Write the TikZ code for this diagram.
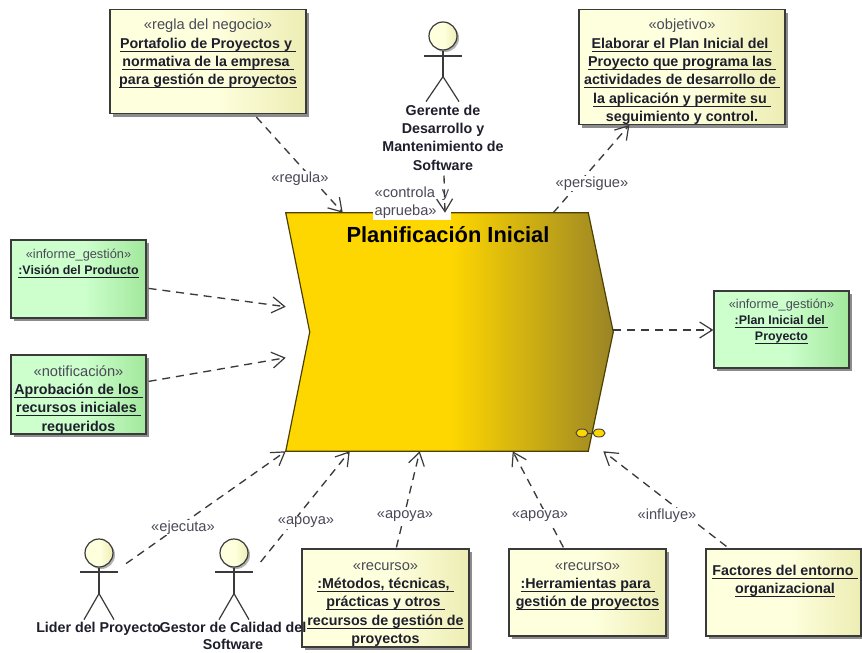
\documentclass[tikz,border=0pt]{standalone}
\usepackage{fontspec}
\setmainfont{Liberation Sans}
\usetikzlibrary{arrows.meta,shadows,shapes.geometric}
\definecolor{inkA}{HTML}{1E1E2C}
\definecolor{inkB}{HTML}{4A4A58}
\definecolor{edgeC}{HTML}{3A3A3A}
\definecolor{yA}{HTML}{FEFFDD}
\definecolor{yB}{HTML}{EDEDB4}
\definecolor{gA}{HTML}{CCFFCC}
\definecolor{gB}{HTML}{A2E89C}
\definecolor{mA}{HTML}{FFD700}
\definecolor{mB}{HTML}{9A8426}
\pgfdeclarehorizontalshading{yshade}{100bp}{color(0bp)=(yA); color(25bp)=(yA); color(52bp)=(yA); color(75bp)=(yB); color(100bp)=(yB)}
\pgfdeclarehorizontalshading{gshade}{100bp}{color(0bp)=(gA); color(25bp)=(gA); color(52bp)=(gA); color(75bp)=(gB); color(100bp)=(gB)}
\pgfdeclarehorizontalshading{mshade}{100bp}{color(0bp)=(mA); color(25bp)=(mA); color(50bp)=(mA); color(75bp)=(mB); color(100bp)=(mB)}
\newsavebox\ulbox
\newcommand\ulx[1]{\leavevmode\sbox\ulbox{#1}\rlap{\rule[-2.5pt]{\wd\ulbox}{0.65pt}}\usebox\ulbox}
\tikzset{
  x=0.75pt,y=-0.75pt,
  boxbase/.style={draw=edgeC,line width=0.9pt,inner sep=0pt,drop shadow={shadow xshift=2.6pt,shadow yshift=-2.6pt,fill=black,opacity=.45}},
  ybox/.style={boxbase,shade,shading=yshade},
  gbox/.style={boxbase,shade,shading=gshade},
  bigtxt/.style={font=\fontsize{10.7pt}{13.75pt}\selectfont\bfseries,text=inkA,align=center,inner sep=0pt,anchor=north},
  smalltxt/.style={font=\fontsize{9.3pt}{11.8pt}\selectfont\bfseries,text=inkA,align=center,inner sep=0pt,anchor=north},
  dep/.style={draw=edgeC,line width=1pt,dash pattern=on 6pt off 4.4pt,-{Straight Barb[length=9.5pt,width=12pt,line width=0.9pt]}},
  deplabel/.style={font=\fontsize{11pt}{13.2pt}\selectfont,text=inkB,fill=white,inner sep=0.8pt},
  actorline/.style={draw=edgeC,line width=0.9pt},
  actorhead/.style={draw=edgeC,line width=0.9pt,shade,shading=yshade,circle,minimum size=21pt,inner sep=0pt,drop shadow={shadow xshift=1.5pt,shadow yshift=-1.5pt,fill=black,opacity=.3}},
  ringnode/.style={draw=black!75,line width=0.7pt,fill=mA,ellipse,minimum width=9pt,minimum height=6pt,inner sep=0pt},
}
\newcommand\stereo[1]{{\fontsize{11pt}{13.75pt}\selectfont\mdseries\color{inkB}#1}}
\newcommand\stereosm[1]{{\fontsize{9.6pt}{11.8pt}\selectfont\mdseries\color{inkB}#1}}
\begin{document}
\begin{tikzpicture}
\useasboundingbox (0,0) rectangle (862,652);
\fill[white] (0,0) rectangle (862,652);
% main activity
\node[minimum width=245.25pt,minimum height=178.5pt,inner sep=0pt] (main) at (449.5,332) {};
\path[draw=black!70!mA,line width=0.9pt,shade,shading=mshade] (main.north west) -- ([xshift=-18.75pt]main.north east) -- (main.east) -- ([xshift=-18.75pt]main.south east) -- (main.south west) -- ([xshift=18pt]main.west) -- cycle;
\node[font=\fontsize{16.4pt}{19pt}\selectfont\bfseries,text=black,inner sep=0pt] (title) at (448,235) {Planificación Inicial};
\draw[black!75,line width=0.7pt] (582,433) -- (599,433);
\node[ringnode] (ringA) at (582,433) {};
\node[ringnode] (ringB) at (599,433) {};
% boxes
\node[ybox,minimum width=147pt,minimum height=78pt] (regla) at (208,61.5) {};
\node[bigtxt] (reglaT) at (208,19) {\stereo{«regla del negocio»}\\\ulx{Portafolio de Proyectos y\ }\\\ulx{normativa de la empresa\ }\\\ulx{para gestión de proyectos}};
\node[ybox,minimum width=154.5pt,minimum height=86pt] (objetivo) at (682,67) {};
\node[bigtxt] (objetivoT) at (682,19) {\stereo{«objetivo»}\\\ulx{Elaborar el Plan Inicial del\ }\\\ulx{Proyecto que programa las\ }\\\ulx{actividades de desarrollo de\ }\\\ulx{la aplicación y permite su\ }\\seguimiento y control.};
\node[gbox,minimum width=101.25pt,minimum height=58.5pt] (vision) at (78.5,279) {};
\node[smalltxt] (visionT) at (78.5,249) {\stereosm{«informe\_gestión»}\\\ulx{:Visión del Producto}};
\node[gbox,minimum width=101.25pt,minimum height=59.25pt] (notif) at (78.5,394.5) {};
\node[bigtxt] (notifT) at (78.5,365) {\stereo{«notificación»}\\\ulx{Aprobación de los\ }\\\ulx{recursos iniciales\ }\\requeridos};
\node[gbox,minimum width=101.25pt,minimum height=57.75pt] (plan) at (781.5,329.5) {};
\node[smalltxt] (planT) at (781.5,299) {\stereosm{«informe\_gestión»}\\\ulx{:Plan Inicial del\ }\\\ulx{Proyecto}};
\node[ybox,minimum width=125.25pt,minimum height=73.5pt] (metodos) at (385.5,598) {};
\node[bigtxt] (metodosT) at (385.5,562) {\stereo{«recurso»}\\\ulx{:Métodos, técnicas,\ }\\\ulx{prácticas y otros\ }\\\ulx{recursos de gestión de}\\proyectos};
\node[ybox,minimum width=117.75pt,minimum height=65.25pt] (herr) at (587.5,592.5) {};
\node[bigtxt] (herrT) at (587.5,562) {\stereo{«recurso»}\\\ulx{:Herramientas para\ }\\\ulx{gestión de proyectos}};
\node[ybox,minimum width=116.25pt,minimum height=65.25pt] (factores) at (783.5,592.5) {};
\node[bigtxt] (factoresT) at (785,564.5) {\ulx{Factores del entorno\ }\\\ulx{organizacional}};
% actors
\node[actorhead] (gerente) at (443,36) {};
\draw[actorline] (gerente.south) -- ([yshift=-19.5pt]gerente.south) coordinate (gerenteHip);
\draw[actorline] ([shift={(-19,20)}]gerente.center) -- ([shift={(19,20)}]gerente.center);
\draw[actorline] (gerenteHip) -- ++(-17,25);
\draw[actorline] (gerenteHip) -- ++(16,25);
\node[bigtxt] (gerenteT) at (443,104.5) {Gerente de\\Desarrollo y\\Mantenimiento de\\Software};
\node[actorhead] (lider) at (99,553) {};
\draw[actorline] (lider.south) -- ([yshift=-19.5pt]lider.south) coordinate (liderHip);
\draw[actorline] ([shift={(-19,19)}]lider.center) -- ([shift={(19,19)}]lider.center);
\draw[actorline] (liderHip) -- ++(-15,26);
\draw[actorline] (liderHip) -- ++(15,26);
\node[bigtxt] (liderT) at (98.5,622) {Lider del Proyecto};
\node[actorhead] (gestor) at (234,553) {};
\draw[actorline] (gestor.south) -- ([yshift=-19.5pt]gestor.south) coordinate (gestorHip);
\draw[actorline] ([shift={(-19,19)}]gestor.center) -- ([shift={(19,19)}]gestor.center);
\draw[actorline] (gestorHip) -- ++(-15,26);
\draw[actorline] (gestorHip) -- ++(15,26);
\node[bigtxt,font=\fontsize{10.7pt}{12.8pt}\selectfont\bfseries] (gestorT) at (233,622) {Gestor de Calidad del\\Software};
% connectors
\draw[dep] ([shift={(147,3)}]regla.south west) -- ([shift={(57,0)}]main.north west);
\draw[dep] ([shift={(-60,0)}]main.north east) -- ([shift={(51,0)}]objetivo.south west);
\draw[dep] ([shift={(2,49)}]vision.north east) -- ([shift={(0,94)}]main.north west);
\draw[dep] ([shift={(2,27)}]notif.north east) -- ([shift={(0,145)}]main.north west);
\draw[dep] ([shift={(0,-2)}]main.east) -- ([shift={(0,0.5)}]plan.west);
\draw[dep] ([shift={(27,-4)}]lider.south) -- (main.south west);
\draw[dep] ([shift={(12,9)}]gestor.east) -- ([shift={(64,0)}]main.south west);
\draw[dep] ([shift={(95,-1)}]metodos.north west) -- ([shift={(134,0)}]main.south west);
\draw[dep] ([shift={(55,-1)}]herr.north west) -- ([shift={(227,0)}]main.south west);
\draw[dep] ([shift={(21,-2)}]factores.north west) -- ([shift={(-10,0)}]main.south east);
% labels
\node[deplabel] (lregula) at (300,178.5) {«regula»};
\node[deplabel,text width=56pt,align=left,inner sep=1pt] (lcontrola) at (412,203) {«controla\hfill y\\aprueba»};
\node[deplabel] (lpersigue) at (592,183.5) {«persigue»};
\node[deplabel] (lejecuta) at (183,527.5) {«ejecuta»};
\node[deplabel] (lapoyaA) at (306,522.5) {«apoya»};
\node[deplabel] (lapoyaB) at (405,516) {«apoya»};
\node[deplabel] (lapoyaC) at (540,516) {«apoya»};
\node[deplabel] (linfluye) at (667,516) {«influye»};
\draw[dep] ([shift={(1,5)}]gerenteT.south) -- ([shift={(-4.5,0)}]main.north);
\end{tikzpicture}
\end{document}
